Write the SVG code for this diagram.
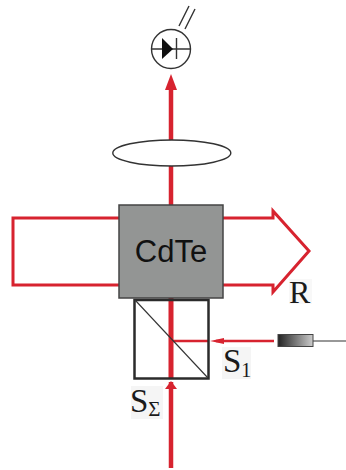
<svg xmlns="http://www.w3.org/2000/svg" width="346" height="470" viewBox="0 0 346 470">
<style>
.red{fill:none;stroke:#d7232f;stroke-linejoin:miter}
.redf{fill:#d7232f}
.k{fill:none;stroke:#333;stroke-width:1.4}
.lbl{font-family:"Liberation Serif",serif;fill:#1a1a1a}
.bg{fill:#f5f5f5}
</style>
<defs><linearGradient id="g" x1="0" x2="1" y1="0" y2="0"><stop offset="0" stop-color="#222"/><stop offset="1" stop-color="#ccc"/></linearGradient></defs>
<rect width="346" height="470" fill="#fff"/>
<g id="connectors">
<path class="red" stroke-width="4.500" d="M171 468V382"/>
<path class="redf" d="M171 381L165 389H177Z"/>
<path class="red" stroke-width="5" d="M171 378V205"/>
<path class="red" stroke-width="4.500" d="M171 205V90"/>
<path class="redf" d="M171 74L165 90H177Z"/>
<path class="red" stroke-width="3" d="M119 218H13V285H119"/>
<path class="red" stroke-width="3" d="M223 218H273V211L309 251L273 292V285H223"/>
<path class="red" stroke-width="2.500" d="M171 341H208"/>
<path class="red" stroke-width="2.500" d="M216 341H274"/>
<path class="redf" d="M210 341L224 338V344Z"/>
<path d="M313 341H346" fill="none" stroke="#333" stroke-width="1.200"/>
</g>
<g id="photodiode">
<circle class="k" cx="171" cy="49" r="19.500"/>
<path class="k" d="M152 49H190M176.500 38V59"/>
<path d="M162 38L173 49L162 59Z" fill="#111"/>
<path class="k" d="M179 26L189 6M185 29L195 9"/>
</g>
<g id="lens"><ellipse cx="171.800" cy="153" rx="59" ry="13" fill="#fff" stroke="#333" stroke-width="1.400"/></g>
<g id="crystal">
<rect x="119" y="205" width="104" height="93" fill="#939594" stroke="#444" stroke-width="1.500"/>
<text x="171" y="262" text-anchor="middle" font-family="Liberation Sans,sans-serif" font-size="31" fill="#111">CdTe</text>
</g>
<g id="beamsplitter">
<rect x="134.500" y="300" width="74" height="78.500" fill="none" stroke="#2b2b2b" stroke-width="2.500"/>
<path d="M135 300L208 378" fill="none" stroke="#333" stroke-width="1.100"/>
</g>
<g id="laser"><rect x="278" y="334.500" width="35" height="12" fill="url(#g)" stroke="#444" stroke-width="1"/></g>
<g id="label-R"><rect x="289" y="279" width="23" height="25" fill="#f8f8f8"/><text class="lbl" x="289" y="302.500" font-size="32">R</text></g>
<g id="label-S1"><rect class="bg" x="222" y="347" width="29" height="32"/><text class="lbl" x="223" y="372" font-size="33">S<tspan font-size="20" dy="5">1</tspan></text></g>
<g id="label-Ssum"><rect class="bg" x="131" y="386" width="32" height="33"/><text class="lbl" x="130" y="412" font-size="33">S<tspan font-size="21" dy="4">Σ</tspan></text></g>
</svg>
